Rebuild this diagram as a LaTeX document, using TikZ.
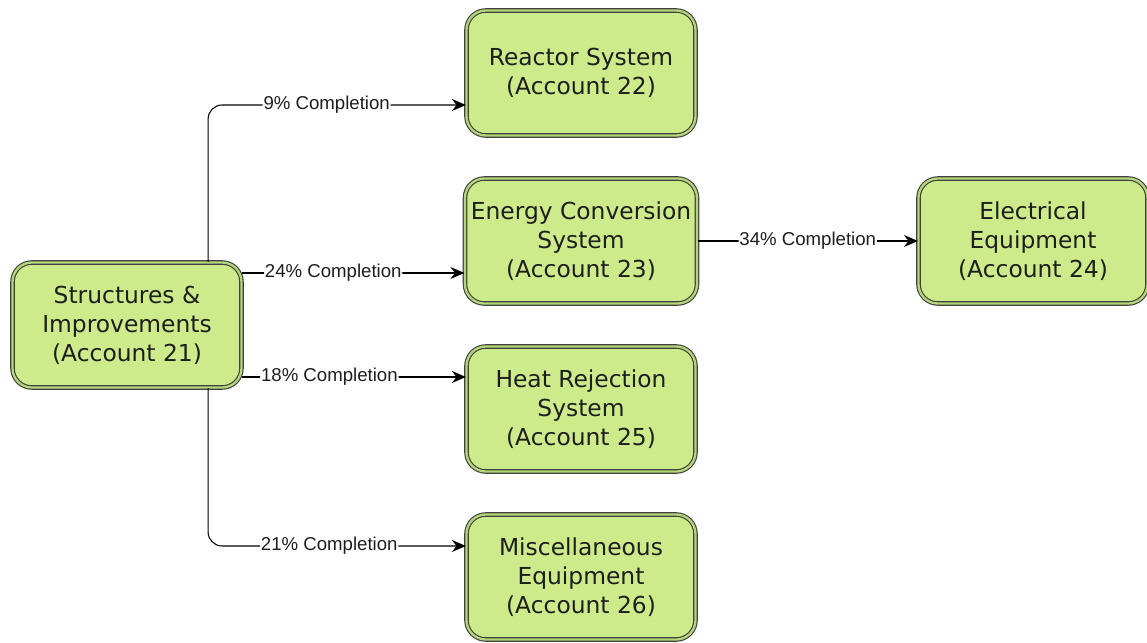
\documentclass[tikz,border=0pt]{standalone}
\usepackage{fontspec}
\setmainfont{DejaVu Sans}
\newfontfamily\lblfont{Liberation Sans}
\usetikzlibrary{arrows.meta,positioning}
\definecolor{leaf}{RGB}{205,235,139}
\definecolor{leafedge}{RGB}{180,214,120}
\definecolor{ink}{RGB}{30,30,30}
\tikzset{
  >={Stealth[length=2.8mm,width=2.4mm]},
  acct/.style={draw=black!75,line width=0.65pt,double=leafedge,double distance=1.3pt,
    fill=leaf,rounded corners=11pt,minimum width=4.58cm,minimum height=2.5cm,
    align=center,font=\fontsize{13.3}{16.5}\selectfont,text=ink},
  flow/.style={->,draw=black,line width=0.6pt,rounded corners=8pt},
  pct/.style={fill=white,inner sep=0.5pt,font=\lblfont\fontsize{10.6}{12}\selectfont,text=ink},
}

\begin{document}
\begin{tikzpicture}
  \useasboundingbox (0,0) rectangle (22.94,-12.84);
  % accounts
  \node[acct] (s21) at (2.54,-6.5) {Structures \&\\Improvements\\(Account 21)};
  \node[acct] (r22) at (11.62,-1.46) {Reactor System\\(Account 22)};
  \node[acct] (e23) at (11.62,-4.82) {Energy Conversion\\System\\(Account 23)};
  \node[acct] (h25) at (11.62,-8.18) {Heat Rejection\\System\\(Account 25)};
  \node[acct] (m26) at (11.62,-11.54) {Miscellaneous\\Equipment\\(Account 26)};
  \node[acct] (ee24) at (20.66,-4.82) {Electrical\\Equipment\\(Account 24)};

  % completion links
  \draw[flow] ([xshift=-0.68cm]s21.north east) |- ([yshift=-0.64cm]r22.west)
    node[pct,pos=0.73] {9\% Completion};
  \draw[flow] ([yshift=1.04cm]s21.east) -- ([yshift=-0.64cm]e23.west)
    node[pct,pos=0.41] {24\% Completion};
  \draw[flow] ([yshift=-1.04cm]s21.east) -- ([yshift=0.64cm]h25.west)
    node[pct,pos=0.39] {18\% Completion};
  \draw[flow] ([xshift=-0.68cm]s21.south east) |- ([yshift=0.62cm]m26.west)
    node[pct,pos=0.735] {21\% Completion};
  \draw[flow] (e23.east) -- (ee24.west)
    node[pct,pos=0.5] {34\% Completion};
\end{tikzpicture}
\end{document}
